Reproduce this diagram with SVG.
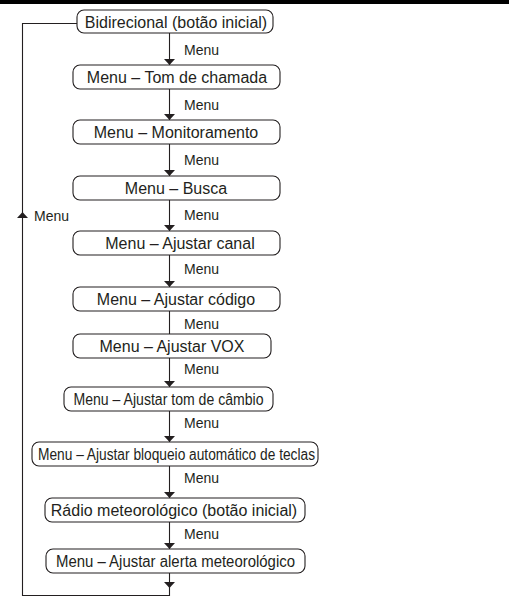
<svg xmlns="http://www.w3.org/2000/svg" width="509" height="597" viewBox="0 0 509 597">
<style>
.box{fill:#fff;stroke:#231f20;stroke-width:1.1}
.t{font-family:"Liberation Sans",Arial,sans-serif;font-size:16px;fill:#231f20;text-anchor:middle}
.lbl{font-family:"Liberation Sans",Arial,sans-serif;font-size:14px;fill:#231f20}
.ln{stroke:#231f20;stroke-width:1.1;fill:none}
</style>
<defs>
<marker id="ah" markerWidth="6" markerHeight="11" refX="6" refY="5.5" orient="auto" markerUnits="userSpaceOnUse"><path d="M0,0 L6,5.5 L0,11 z" fill="#231f20"/></marker>
</defs>
<rect x="0" y="0" width="509" height="4" fill="#000"/>
<g id="connectors">
<line class="ln" x1="169.5" y1="33" x2="169.5" y2="65" marker-end="url(#ah)"/>
<line class="ln" x1="169.5" y1="89" x2="169.5" y2="120" marker-end="url(#ah)"/>
<line class="ln" x1="169.5" y1="144" x2="169.5" y2="176" marker-end="url(#ah)"/>
<line class="ln" x1="169.5" y1="200" x2="169.5" y2="231" marker-end="url(#ah)"/>
<line class="ln" x1="169.5" y1="255" x2="169.5" y2="287" marker-end="url(#ah)"/>
<line class="ln" x1="169.5" y1="311" x2="169.5" y2="334"/>
<line class="ln" x1="169.5" y1="358" x2="169.5" y2="387" marker-end="url(#ah)"/>
<line class="ln" x1="169.5" y1="411" x2="169.5" y2="442" marker-end="url(#ah)"/>
<line class="ln" x1="169.5" y1="466" x2="169.5" y2="498" marker-end="url(#ah)"/>
<line class="ln" x1="169.5" y1="522" x2="169.5" y2="549" marker-end="url(#ah)"/>
<line class="ln" x1="169.5" y1="573" x2="169.5" y2="588" marker-end="url(#ah)"/>
<path class="ln" d="M169.5,588 V595.5 H22.5 V212"  marker-end="url(#ah)"/>
<path class="ln" d="M22.5,212 V23.5 H77"/>
<text class="lbl" x="184" y="55">Menu</text>
<text class="lbl" x="184" y="110">Menu</text>
<text class="lbl" x="184" y="165">Menu</text>
<text class="lbl" x="184" y="220">Menu</text>
<text class="lbl" x="184" y="274">Menu</text>
<text class="lbl" x="184" y="329">Menu</text>
<text class="lbl" x="184" y="374">Menu</text>
<text class="lbl" x="184" y="428">Menu</text>
<text class="lbl" x="184" y="483">Menu</text>
<text class="lbl" x="184" y="539">Menu</text>
<text class="lbl" x="34" y="221">Menu</text>
</g>
<g id="n1"><rect class="box" x="77" y="10" width="196" height="23" rx="7"/><text class="t" x="176" y="27.5">Bidirecional (botão inicial)</text></g>
<g id="n2"><rect class="box" x="73" y="65" width="207" height="24" rx="7"/><text class="t" x="177" y="82.5">Menu – Tom de chamada</text></g>
<g id="n3"><rect class="box" x="73" y="120" width="207" height="24" rx="7"/><text class="t" x="176" y="137.5">Menu – Monitoramento</text></g>
<g id="n4"><rect class="box" x="73" y="176" width="207" height="24" rx="7"/><text class="t" x="176" y="193.5">Menu – Busca</text></g>
<g id="n5"><rect class="box" x="73" y="231" width="207" height="24" rx="7"/><text class="t" x="180" y="248.5">Menu – Ajustar canal</text></g>
<g id="n6"><rect class="box" x="73" y="287" width="207" height="24" rx="7"/><text class="t" x="176" y="304.5">Menu – Ajustar código</text></g>
<g id="n7"><rect class="box" x="73" y="334" width="198" height="24" rx="7"/><text class="t" x="172" y="351.5">Menu – Ajustar VOX</text></g>
<g id="n8"><rect class="box" x="64" y="387" width="209" height="24" rx="7"/><text class="t" x="168.5" y="404.5" textLength="190" lengthAdjust="spacingAndGlyphs">Menu – Ajustar tom de câmbio</text></g>
<g id="n9"><rect class="box" x="32" y="442" width="286" height="24" rx="7"/><text class="t" x="176.5" y="459.5" textLength="277" lengthAdjust="spacingAndGlyphs">Menu – Ajustar bloqueio automático de teclas</text></g>
<g id="n10"><rect class="box" x="45" y="498" width="260" height="24" rx="7"/><text class="t" x="174" y="515.5">Rádio meteorológico (botão inicial)</text></g>
<g id="n11"><rect class="box" x="46" y="549" width="259" height="24" rx="7"/><text class="t" x="175.5" y="566.5" textLength="239" lengthAdjust="spacingAndGlyphs">Menu – Ajustar alerta meteorológico</text></g>
</svg>
